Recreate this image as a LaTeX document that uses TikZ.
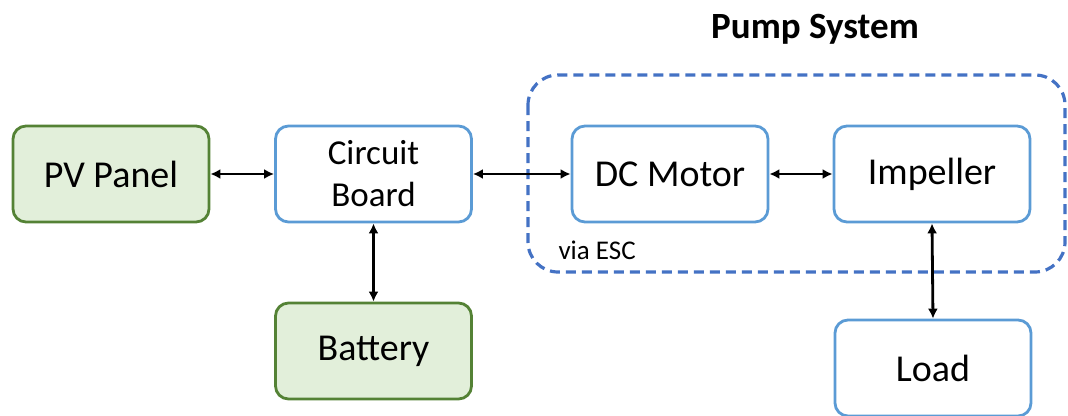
\documentclass[tikz,border=0pt]{standalone}
\usepackage{fontspec}
\setmainfont{Carlito}
\usetikzlibrary{arrows.meta}
\definecolor{gfill}{HTML}{E2EFDA}
\definecolor{gdraw}{HTML}{548235}
\definecolor{bdraw}{HTML}{5B9BD5}
\definecolor{ddraw}{HTML}{4472C4}
\tikzset{
  box/.style={draw=bdraw, line width=2.8pt, rounded corners=13pt, fill=white,
    minimum width=196pt, minimum height=96pt, inner sep=0pt, align=center,
    font=\fontsize{38}{44}\selectfont},
  gbox/.style={box, draw=gdraw, fill=gfill},
  conn/.style={line width=2.8pt, {Latex[length=10pt,width=10pt]}-{Latex[length=10pt,width=10pt]}},
}
\begin{document}
\begin{tikzpicture}[x=1pt,y=-1pt]
\useasboundingbox (0,0) rectangle (1068,415);
\draw[ddraw, line width=3.2pt, dash pattern=on 10pt off 6pt, rounded corners=30pt] (528,75) rectangle (1065,272);
\node[font=\bfseries\fontsize{37}{42}\selectfont] (title) at (815,29) {Pump System};
\node[anchor=west, font=\fontsize{27}{30}\selectfont] (esc) at (555,250) {via ESC};
\node[gbox] (pv) at (111,174) {PV Panel};
\node[box, font=\fontsize{35}{42}\selectfont] (cb) at (373.5,174) {Circuit\\Board};
\node[box] (dc) at (670,174) {DC Motor};
\node[box] (imp) at (932,174) {Impeller};
\node[gbox] (bat) at (373.5,351) {Battery};
\node[box] (load) at (933,368) {Load};
\draw[conn] (pv) -- (cb);
\draw[conn] (cb) -- (dc);
\draw[conn] (dc) -- (imp);
\draw[conn] (cb) -- (bat);
\draw[conn] (imp.south) -- (load.north);
\end{tikzpicture}
\end{document}
